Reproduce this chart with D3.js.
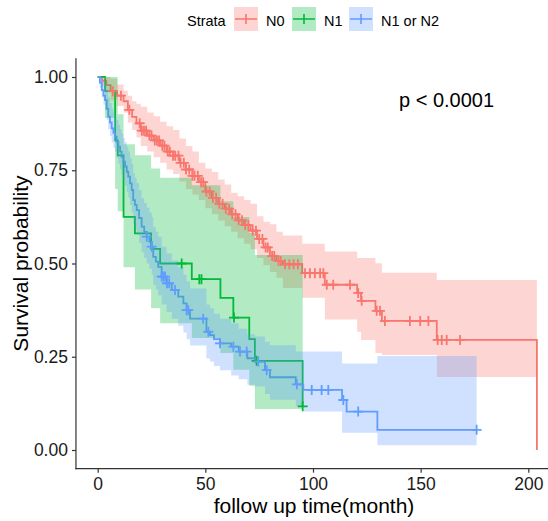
<!DOCTYPE html>
<html>
<head>
<meta charset="utf-8">
<script src="https://cdn.jsdelivr.net/npm/d3@7"></script>
<style>
  html, body { margin: 0; padding: 0; background: #fff; }
  svg { display: block; font-family: "Liberation Sans", Arial, sans-serif; }
</style>
</head>
<body>
<svg id="chart" width="548" height="521"></svg>
<script>
// ---- Kaplan-Meier estimates per stratum (time in months) ----
const strata = ["N0", "N1", "N1 or N2"];
const strataColors = ["#F8766D", "#00BA38", "#619CFF"];

const n0Time  = [0, 2, 4, 6, 9, 12, 14, 16, 18, 20, 23, 26, 29, 32, 35, 38, 41, 44, 47, 50, 53, 56, 59, 62, 65, 68, 71, 74, 77, 80, 83, 86, 95, 105.5, 120.5, 122.3, 129, 132, 157.5, 204];
const n0Surv  = [1, .99, .978, .962, .95, .935, .912, .893, .876, .856, .843, .83, .816, .8, .789, .77, .752, .735, .718, .693, .676, .66, .647, .632, .616, .603, .588, .566, .543, .52, .507, .498, .474, .443, .421, .4, .373, .346, .295, 0];
const n0Upper = [1, 1, 1, .995, .98, .963, .95, .935, .928, .92, .905, .895, .88, .868, .858, .835, .815, .8, .77, .755, .745, .725, .712, .69, .68, .67, .66, .627, .612, .605, .585, .575, .553, .532, .515, .515, .501, .475, .456, .456];
const n0Lower = [1, .975, .958, .938, .922, .905, .878, .858, .838, .815, .8, .785, .77, .752, .74, .72, .7, .685, .67, .648, .632, .615, .6, .585, .568, .553, .538, .515, .495, .477, .462, .434, .408, .35, .317, .295, .26, .255, .196, .196];
const n0Censor = [7, 10.8, 14.7, 19.5, 20.5, 21.5, 22.5, 24, 25, 26.5, 27.5, 28.5, 30, 31, 32.5, 33.5, 35, 36, 37.5, 38.5, 40, 41, 42.5, 44, 45, 46.5, 48, 49, 50.5, 52, 53.5, 55, 56.5, 58, 59.5, 61, 62.5, 64, 65.5, 67, 68.5, 70, 72, 73.5, 75, 76.5, 78, 79, 81, 82, 84, 85, 87, 89, 91, 93, 96.3, 98.6, 100.9, 103.3, 104.8, 106.4, 109.4, 117.2, 121, 122.6, 129.6, 131.1, 133.4, 145, 149.8, 153.6, 157.9, 159.8, 162.1, 168.3];

const n1Time  = [0, 3.4, 8.1, 9.3, 12, 17.3, 24.8, 29, 43.7, 57, 63, 70.4, 73, 95.2];
const n1Surv  = [1, .962, .83, .79, .625, .581, .539, .5, .458, .408, .355, .297, .239, .117];
const n1Upper = [1, 1, 1, .9, .82, .79, .755, .73, .71, .667, .625, .582, .523, .523];
const n1Lower = [1, .89, .7, .64, .49, .43, .38, .34, .3, .26, .215, .172, .11, .11];
const n1Censor = [39, 47.2, 48.2, 63.3, 73.8, 95.2];

const n12Time  = [0, 1, 1.9, 2.7, 3.4, 4.2, 4.9, 5.7, 6.5, 7.3, 8, 8.8, 9.6, 10.4, 11.1, 11.9, 12.7, 13.5, 14.2, 15, 15.8, 16.5, 17.3, 18.1, 19.2, 20.4, 21.6, 22.8, 24, 25.1, 25.8, 27, 28.1, 29.7, 32, 34.4, 37.4, 39.8, 41.3, 42.9, 50.5, 52.2, 54, 56.8, 62, 65.5, 69.5, 73, 77.7, 80, 92, 95.5, 113.5, 115.6, 129.9, 176];
const n12Surv  = [1, .985, .965, .95, .938, .915, .894, .878, .862, .85, .84, .826, .813, .8, .786, .773, .76, .746, .733, .715, .697, .67, .657, .643, .622, .599, .585, .572, .558, .545, .518, .505, .491, .465, .447, .429, .411, .393, .375, .352, .317, .308, .297, .286, .277, .264, .246, .237, .214, .195, .176, .161, .134, .103, .054, .054];
const n12Upper = [1, 1, 1, .99, .98, .965, .945, .93, .915, .905, .895, .885, .872, .86, .848, .836, .825, .812, .8, .783, .767, .742, .73, .716, .697, .675, .662, .65, .637, .625, .598, .585, .572, .545, .527, .508, .49, .47, .452, .433, .39, .38, .365, .352, .34, .325, .31, .304, .29, .281, .264, .264, .232, .232, .252, .252];
const n12Lower = [1, .97, .945, .925, .91, .885, .86, .842, .825, .81, .8, .783, .768, .753, .738, .723, .708, .692, .677, .657, .637, .608, .592, .577, .555, .53, .515, .5, .486, .47, .443, .43, .415, .39, .37, .352, .333, .315, .297, .28, .245, .237, .225, .214, .2, .19, .175, .17, .15, .135, .118, .103, .046, .046, .013, .013];
const n12Censor = [22.8, 25.1, 29.7, 30.5, 31.3, 32.2, 33.2, 35.9, 41.3, 42.1, 49, 51.4, 56.8, 63, 66.1, 69.2, 74.6, 78.5, 92.5, 99.4, 104, 107.1, 114.1, 121, 176];

const xTicks = [0, 50, 100, 150, 200];
const yTicks = [0, 0.25, 0.5, 0.75, 1];
const pLabel = "p < 0.0001";
const xTitle = "follow up time(month)";
const yTitle = "Survival probability";
const legendTitle = "Strata";

// ---- assemble per-stratum records ----
function build(time, surv, upper, lower) {
  return time.map((t, i) => ({ t, s: surv[i], u: upper[i], l: lower[i] }));
}
const curves = [
  { pts: build(n0Time, n0Surv, n0Upper, n0Lower), censor: n0Censor },
  { pts: build(n1Time, n1Surv, n1Upper, n1Lower), censor: n1Censor },
  { pts: build(n12Time, n12Surv, n12Upper, n12Lower), censor: n12Censor }
];

function survAt(pts, t) {
  let v = pts[0].s;
  for (const p of pts) { if (p.t <= t) v = p.s; else break; }
  return v;
}

// ---- scales ----
const x = d3.scaleLinear().domain([0, 200]).range([97.7, 528.3]);
const y = d3.scaleLinear().domain([0, 1]).range([450, 77]);
const xMin = -10.1, yMin = -0.05, yMax = 1.05;

const svg = d3.select("#chart");

svg.append("defs").append("clipPath").attr("id", "panel")
  .append("rect")
  .attr("x", x(xMin)).attr("y", y(yMax))
  .attr("width", 600).attr("height", y(yMin) - y(yMax));

const panel = svg.append("g").attr("clip-path", "url(#panel)");

// survival step lines
const line = d3.line().curve(d3.curveStepAfter).x(d => x(d.t)).y(d => y(d.s));
curves.forEach((c, i) => {
  panel.append("path")
    .attr("d", line(c.pts))
    .attr("fill", "none")
    .attr("stroke", strataColors[i])
    .attr("stroke-width", 1.8);
});

// confidence bands
const band = d3.area().curve(d3.curveStepAfter)
  .x(d => x(d.t)).y0(d => y(d.l)).y1(d => y(d.u));
curves.forEach((c, i) => {
  panel.append("path")
    .attr("d", band(c.pts))
    .attr("fill", strataColors[i])
    .attr("fill-opacity", 0.3)
    .attr("stroke", "none");
});

// censoring marks
const arm = 5;
curves.forEach((c, i) => {
  const g = panel.append("g")
    .attr("stroke", strataColors[i])
    .attr("stroke-width", 1.8);
  c.censor.forEach(t => {
    const cx = x(t), cy = y(survAt(c.pts, t));
    g.append("path").attr("d", `M${cx - arm},${cy}H${cx + arm}M${cx},${cy - arm}V${cy + arm}`);
  });
});

// ---- axes ----
const axisColor = "#333";
const yAxis = svg.append("g")
  .attr("transform", `translate(${x(xMin)},0)`)
  .call(d3.axisLeft(y).tickValues(yTicks).tickFormat(d3.format(".2f")).tickSize(4).tickPadding(4));
yAxis.select(".domain").remove();
yAxis.append("line")
  .attr("x1", 0).attr("x2", 0)
  .attr("y1", y(yMax)).attr("y2", y(yMin) + 0.6)
  .attr("stroke", axisColor).attr("stroke-width", 1.2);

const xAxis = svg.append("g")
  .attr("transform", `translate(0,${y(yMin)})`)
  .call(d3.axisBottom(x).tickValues(xTicks).tickFormat(d3.format("d")).tickSize(4).tickPadding(5));
xAxis.select(".domain").remove();
xAxis.append("line")
  .attr("x1", x(xMin) - 0.6).attr("x2", 560)
  .attr("y1", 0).attr("y2", 0)
  .attr("stroke", axisColor).attr("stroke-width", 1.2);

[yAxis, xAxis].forEach(a => {
  a.selectAll(".tick line").attr("stroke", axisColor).attr("stroke-width", 1.2);
  a.selectAll(".tick text").attr("fill", "#1a1a1a").attr("font-size", 17.5)
    .attr("font-family", "Liberation Sans, Arial, sans-serif");
});

// axis titles
svg.append("text")
  .attr("x", 314).attr("y", 513)
  .attr("text-anchor", "middle")
  .attr("font-size", 21).attr("fill", "#000")
  .text(xTitle);

svg.append("text")
  .attr("transform", `translate(28,${(y(yMax) + y(yMin)) / 2}) rotate(-90)`)
  .attr("text-anchor", "middle")
  .attr("font-size", 21).attr("fill", "#000")
  .text(yTitle);

// p-value annotation
svg.append("text")
  .attr("x", 399).attr("y", 107)
  .attr("font-size", 20).attr("fill", "#000")
  .text(pLabel);

// ---- legend ----
const legend = svg.append("g");
legend.append("text")
  .attr("x", 187).attr("y", 26)
  .attr("font-size", 14.5).attr("fill", "#000")
  .text(legendTitle);

const keyX = [234, 292, 349];
const labelX = [266, 324, 381];
strata.forEach((name, i) => {
  const k = legend.append("g").attr("transform", `translate(${keyX[i]},7)`);
  k.append("rect").attr("width", 24).attr("height", 24)
    .attr("fill", strataColors[i]).attr("fill-opacity", 0.3);
  k.append("path").attr("d", "M1,12H23M12,7V17")
    .attr("stroke", strataColors[i]).attr("stroke-width", 1.6).attr("fill", "none");
  legend.append("text")
    .attr("x", labelX[i]).attr("y", 26)
    .attr("font-size", 14.5).attr("fill", "#000")
    .text(name);
});
</script>
</body>
</html>
